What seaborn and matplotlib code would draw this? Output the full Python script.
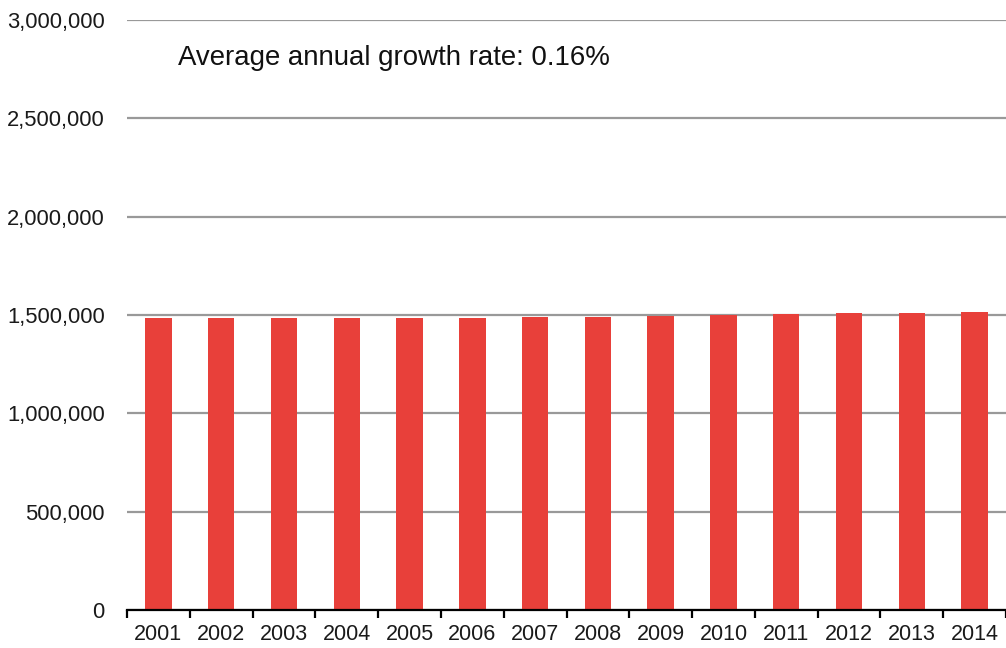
import numpy as np
import pandas as pd
import matplotlib
matplotlib.use("Agg")
import matplotlib.pyplot as plt
import seaborn as sns
from matplotlib.ticker import FuncFormatter

years = ["2001", "2002", "2003", "2004", "2005", "2006", "2007",
         "2008", "2009", "2010", "2011", "2012", "2013", "2014"]
population = [1483000, 1483000, 1483500, 1486000, 1486500, 1487000, 1487500,
              1491000, 1495000, 1500000, 1503500, 1510000, 1512000, 1517000]
annotation = "Average annual growth rate: 0.16%"

sns.set_theme(style="white")
plt.rcParams["font.family"] = ["Liberation Sans", "DejaVu Sans"]

df = pd.DataFrame({"year": years, "value": population})

fig = plt.figure(figsize=(10.06, 6.48), dpi=100)
ax = fig.add_axes([127 / 1006, 1 - 610 / 648, 1 - 127 / 1006, (610 - 20) / 648])

sns.barplot(data=df, x="year", y="value", color="#E8403A", width=0.42,
            saturation=1, ax=ax)
for p in ax.patches:
    p.set_zorder(3)
    p.set_linewidth(0)

ax.set_ylim(0, 3000000)
ax.set_xlim(-0.5, 13.39)
ax.set_yticks(np.arange(0, 3000001, 500000))
ax.yaxis.set_major_formatter(FuncFormatter(lambda v, p: f"{int(v):,}"))
ax.set_axisbelow(True)
ax.grid(axis="y", color="#999999", linewidth=1.6)
for s in ["left", "right", "top"]:
    ax.spines[s].set_visible(False)
ax.spines["bottom"].set_color("black")
ax.spines["bottom"].set_linewidth(1.6)
ax.spines["bottom"].set_zorder(4)

ax.set_xticks(np.arange(-0.5, 14, 1), minor=True)
ax.tick_params(axis="x", which="minor", length=6, width=1.6, color="black", direction="out", bottom=True)
ax.tick_params(axis="x", which="major", length=0, pad=10, labelsize=15.5, labelcolor="#1a1a1a")
ax.tick_params(axis="y", length=0, pad=16, labelsize=15.8, labelcolor="#1a1a1a")
ax.set_xlabel("")
ax.set_ylabel("")

ax.text(0.306, 2771000, annotation, fontsize=19.9, color="#111111", va="baseline", ha="left")

fig.savefig("out.png", dpi=100)
